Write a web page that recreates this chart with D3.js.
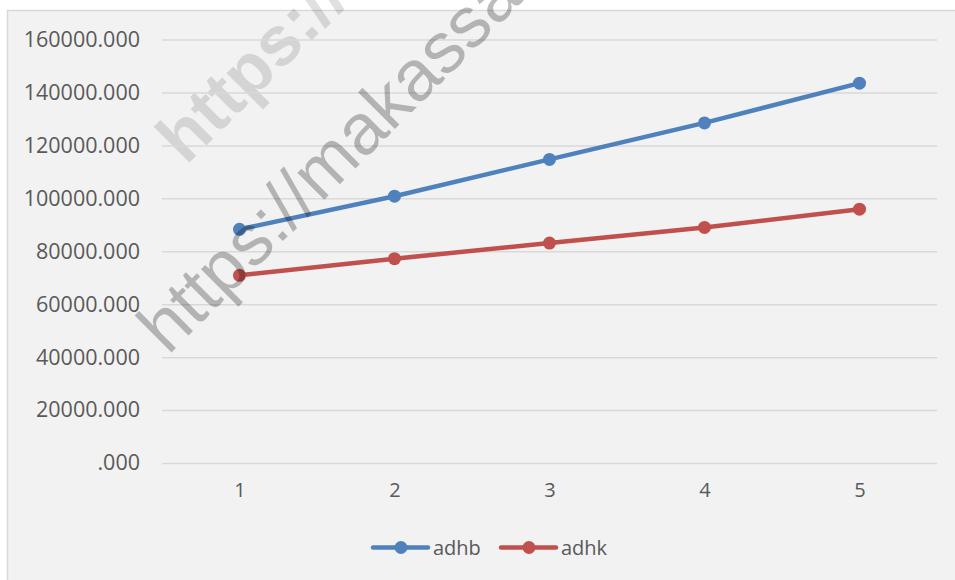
<!DOCTYPE html>
<html>
<head>
<meta charset="utf-8">
<script src="https://cdn.jsdelivr.net/npm/d3@7"></script>
<style>
    body { margin: 0; background: #ffffff; }
    svg { display: block; font-family: 'Open Sans', 'Noto Sans', sans-serif; }
</style>
</head>
<body>
<svg width="955" height="580"></svg>
<script>
var categories = [1, 2, 3, 4, 5];
var adhb = [88300, 100800, 114700, 128500, 143500];
var adhk = [70900, 77200, 83100, 89000, 95900];
var yTicks = [0, 20000, 40000, 60000, 80000, 100000, 120000, 140000, 160000];
var seriesNames = ['adhb', 'adhk'];
var watermarkText = 'https://makassar';

var series = [
    { name: seriesNames[0], values: adhb, color: '#4f81bd' },
    { name: seriesNames[1], values: adhk, color: '#c0504d' }
];

var svg = d3.select('svg');

// chart area box
svg.append('rect')
    .attr('x', 7.5).attr('y', 10.5)
    .attr('width', 960).attr('height', 580)
    .attr('fill', '#f2f2f2')
    .attr('stroke', '#d9d9d9')
    .attr('stroke-width', 1.5);

var xScale = d3.scalePoint()
    .domain(categories)
    .range([162, 937])
    .padding(0.5);

var yScale = d3.scaleLinear()
    .domain([0, 160000])
    .range([463, 39.5]);

function fmt(v) {
    return v === 0 ? '.000' : d3.format('.3f')(v);
}

// light bold watermark sits behind the plot
svg.append('text')
    .attr('transform', 'translate(186,166) rotate(-45)')
    .attr('font-family', "'Liberation Sans', Arial, sans-serif")
    .attr('font-weight', 'bold')
    .attr('font-size', 70)
    .attr('fill', '#000')
    .attr('fill-opacity', 0.12)
    .text(watermarkText);

// y axis with gridlines
var yAxis = svg.append('g')
    .attr('transform', 'translate(162,0)')
    .call(d3.axisLeft(yScale).tickValues(yTicks).tickFormat(fmt).tickSize(-775).tickPadding(22));
yAxis.select('.domain').remove();
yAxis.selectAll('line').attr('stroke', '#d9d9d9').attr('stroke-width', 1.5);
yAxis.selectAll('text')
    .attr('fill', '#595959')
    .attr('font-size', 21.5)
    .attr('font-family', "'Open Sans', sans-serif");

// x axis labels
var xAxis = svg.append('g')
    .attr('transform', 'translate(0,463)')
    .call(d3.axisBottom(xScale).tickSize(0).tickPadding(20));
xAxis.select('.domain').remove();
xAxis.selectAll('text')
    .attr('fill', '#595959')
    .attr('font-size', 20)
    .attr('font-family', "'Open Sans', sans-serif");

var line = d3.line()
    .x(function(d, i) { return xScale(categories[i]); })
    .y(function(d) { return yScale(d); });

series.forEach(function(s) {
    var g = svg.append('g');
    g.append('path')
        .datum(s.values)
        .attr('d', line)
        .attr('fill', 'none')
        .attr('stroke', s.color)
        .attr('stroke-width', 4.5)
        .attr('stroke-linecap', 'round');
    g.selectAll('circle')
        .data(s.values)
        .enter().append('circle')
        .attr('cx', function(d, i) { return xScale(categories[i]); })
        .attr('cy', function(d) { return yScale(d); })
        .attr('r', 6.5)
        .attr('fill', s.color);
});

// legend
var legendX = [373, 501];
series.forEach(function(s, i) {
    var g = svg.append('g').attr('transform', 'translate(' + legendX[i] + ',547.5)');
    g.append('line')
        .attr('x1', 0).attr('x2', 55)
        .attr('stroke', s.color)
        .attr('stroke-width', 4.5)
        .attr('stroke-linecap', 'round');
    g.append('circle').attr('cx', 28).attr('r', 6.5).attr('fill', s.color);
    g.append('text')
        .attr('x', 60).attr('y', 7)
        .attr('fill', '#595959')
        .attr('font-size', 20)
        .text(s.name);
});

// darker watermark on top of the lines
svg.append('text')
    .attr('transform', 'translate(168,356) rotate(-45)')
    .attr('font-family', "'Liberation Sans', Arial, sans-serif")
    .attr('font-size', 72)
    .attr('fill', '#000')
    .attr('fill-opacity', 0.26)
    .text(watermarkText);
</script>
</body>
</html>
